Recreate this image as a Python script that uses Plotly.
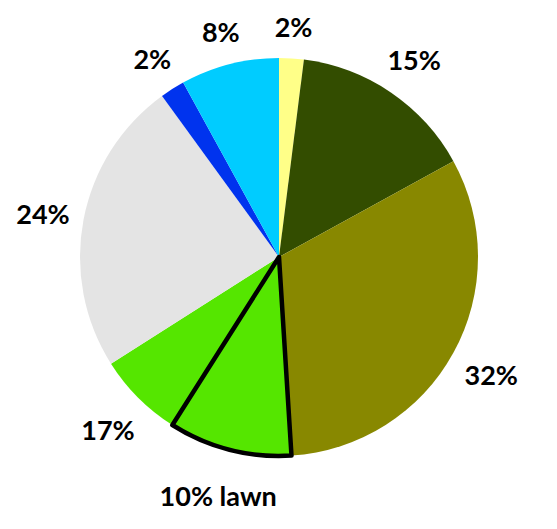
import math
import plotly.graph_objects as go

labels = ["A", "B", "C", "Lawn", "Other green", "Grey", "Blue", "Cyan"]
values = [2, 15, 32, 10, 7, 24, 2, 8]
texts = ["2%", "15%", "32%", "10% lawn", "17%", "24%", "2%", "8%"]
colors = ["#FFFF88", "#334D00", "#888800", "#55E600", "#55E600", "#E4E4E4", "#0033EE", "#00CCFF"]
outline = [0, 0, 0, 4.5, 0, 0, 0, 0]

W, H = 557, 529
cx, cy, r = 279, 257, 199
FONT = 27
R_POLAR = 257  # px radius of the (invisible) polar frame used for labels
LABEL_DY = 5   # labels sit slightly below the pie centre line


def dom(rad, ccx=cx, ccy=cy):
    return dict(x=[max(0.0, (ccx - rad) / W), min(1.0, (ccx + rad) / W)],
                y=[max(0.0, (H - ccy - rad) / H), min(1.0, (H - ccy + rad) / H)])


# label angles = slice mid-angles (clockwise from 12 o'clock), derived from values
total = sum(values)
theta, rad = [], []
acc = 0
for v, t in zip(values, texts):
    mid = 360.0 * (acc + v / 2) / total
    acc += v
    a = math.radians(mid)
    half_w = 0.52 * FONT * len(t) / 2
    half_h = FONT * 0.52
    theta.append(mid)
    rad.append(r + 18 + half_w * abs(math.sin(a)) + half_h * abs(math.cos(a)))

common = dict(labels=labels, values=values, sort=False, direction="clockwise",
              rotation=0, showlegend=False, hoverinfo="none", textinfo="none")

fig = go.Figure()
fig.add_trace(go.Pie(**common, marker=dict(colors=colors, line=dict(width=0)),
                     domain=dom(r)))
fig.add_trace(go.Pie(**common,
                     marker=dict(colors=["rgba(0,0,0,0)"] * len(values),
                                 line=dict(width=outline, color="black")),
                     domain=dom(r)))
fig.add_trace(go.Scatterpolar(
    r=rad, theta=theta, mode="text", text=texts, textposition="middle center",
    textfont=dict(family="Lato", size=FONT, color="black", weight="bold"),
    cliponaxis=False, showlegend=False, hoverinfo="none",
))
fig.update_layout(
    width=W, height=H, margin=dict(l=0, r=0, t=0, b=0),
    paper_bgcolor="white", plot_bgcolor="white",
    polar=dict(
        domain=dom(R_POLAR - LABEL_DY, cx, cy + LABEL_DY), bgcolor="rgba(0,0,0,0)",
        radialaxis=dict(range=[0, R_POLAR - LABEL_DY], visible=False, showgrid=False),
        angularaxis=dict(rotation=90, direction="clockwise", visible=False, showgrid=False),
    ),
)
fig.write_html("out.html")
